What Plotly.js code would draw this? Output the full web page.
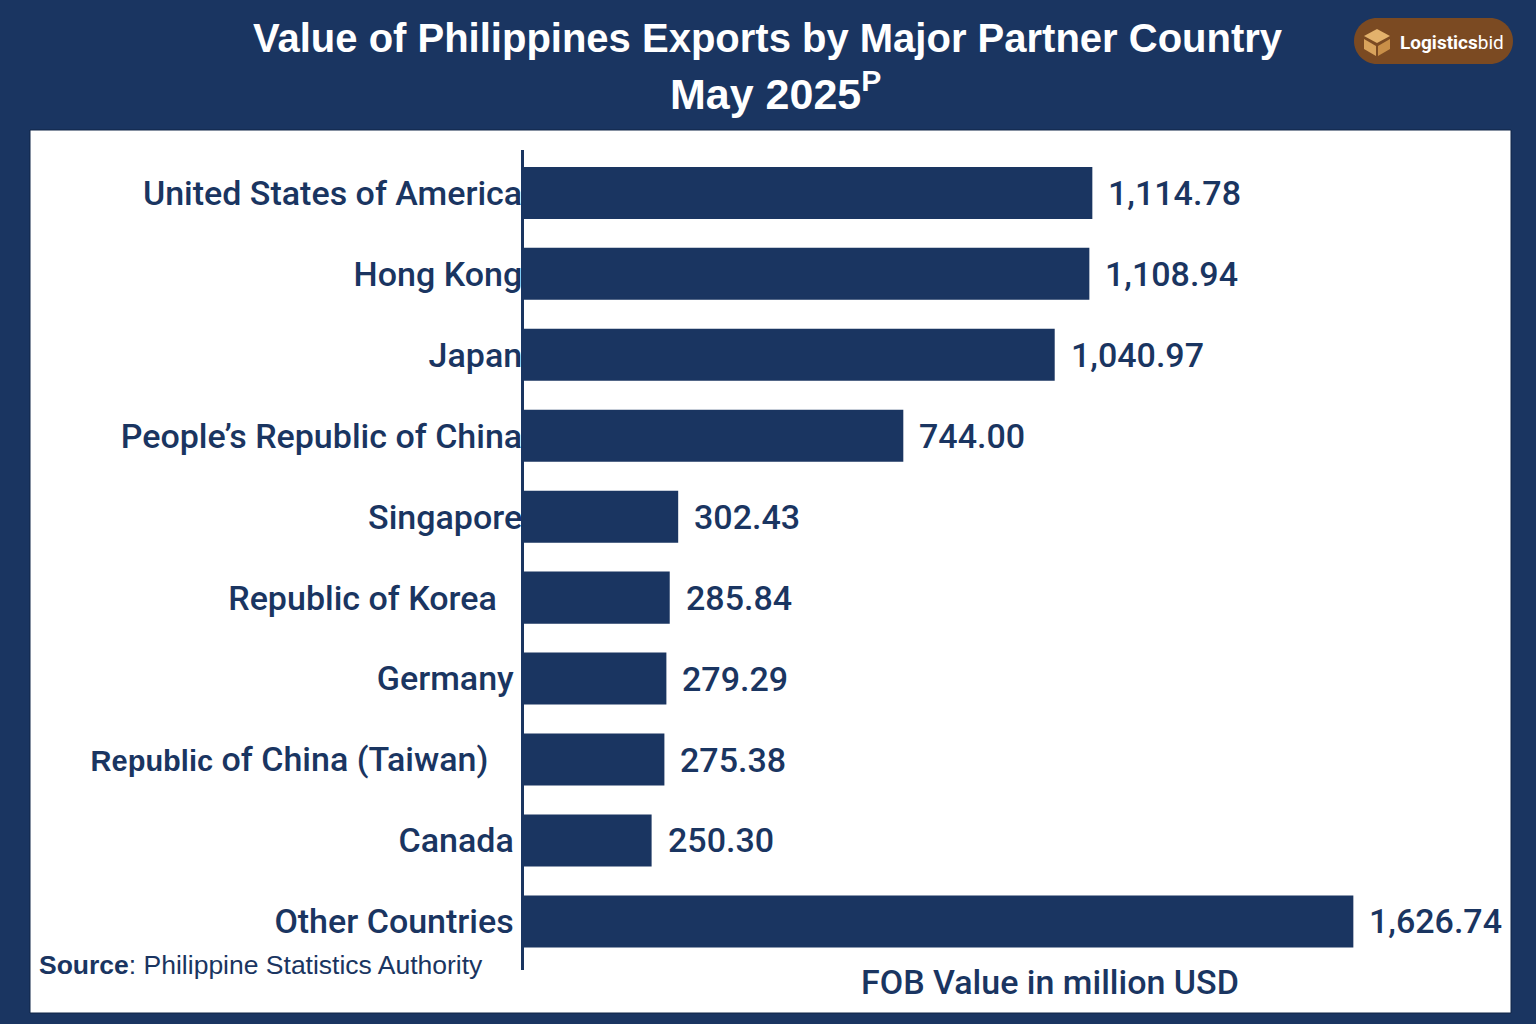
<!DOCTYPE html>
<html>
<head>
<meta charset="utf-8">
<script src="https://cdn.plot.ly/plotly-3.0.1.min.js"></script>
<style>html,body{margin:0;padding:0;background:#1a3561;}#chart{width:1536px;height:1024px;}</style>
</head>
<body>
<div id="chart"></div>
<script>
// ---- data ----
const countries = [
  "United States of America",
  "Hong Kong",
  "Japan",
  "People\u2019s Republic of China",
  "Singapore",
  "Republic of Korea",
  "Germany",
  "Republic of China (Taiwan)",
  "Canada",
  "Other Countries"
];
const values = [1114.78, 1108.94, 1040.97, 744.00, 302.43, 285.84, 279.29, 275.38, 250.30, 1626.74];
const NB = "\u00a0";
const tickLabels = countries.map(c => {
  if (c === "Republic of China (Taiwan)")
    return '<span style="font-family:Arial;font-size:29px;font-weight:bold">Republic</span> of China (Taiwan)' + NB.repeat(4);
  if (c === "Republic of Korea") return c + NB.repeat(3);
  if (c === "Germany" || c === "Canada" || c === "Other Countries") return c + NB;
  return c;
});
const titleLine1 = "Value of Philippines Exports by Major Partner Country";
const titleLine2 = "May 2025<sup>P</sup>";
const xTitleText = "FOB Value in million USD";
const sourceText = "<b>Source</b>: Philippine Statistics Authority";

// ---- style ----
const NAVY = "#1a3561";
const W = 1536, H = 1024;
const px = x => x / W;
const py = y => 1 - y / H;
const pathPx = pts => pts.map((p, i) => (i ? "L" : "M") + px(p[0]).toFixed(5) + "," + py(p[1]).toFixed(5)).join(" ") + " Z";

function pill(x0, y0, x1, y1) {
  const r = (y1 - y0) / 2, k = 0.5523 * r;
  const P = (x, y) => px(x).toFixed(5) + "," + py(y).toFixed(5);
  return "M" + P(x0 + r, y0) + " L" + P(x1 - r, y0) +
    " C" + P(x1 - r + k, y0) + " " + P(x1, y0 + r - k) + " " + P(x1, y0 + r) +
    " C" + P(x1, y1 - r + k) + " " + P(x1 - r + k, y1) + " " + P(x1 - r, y1) +
    " L" + P(x0 + r, y1) +
    " C" + P(x0 + r - k, y1) + " " + P(x0, y1 - r + k) + " " + P(x0, y0 + r) +
    " C" + P(x0, y0 + r - k) + " " + P(x0 + r - k, y0) + " " + P(x0 + r, y0) + " Z";
}

const trace = {
  type: "bar",
  orientation: "h",
  x: values,
  y: countries,
  marker: { color: NAVY, line: { width: 0 } },
  hoverinfo: "x+y"
};

const valueAnnotations = values.map((v, i) => ({
  x: v, y: countries[i], xref: "x", yref: "y",
  text: v.toLocaleString("en-US", { minimumFractionDigits: 2, maximumFractionDigits: 2 }),
  showarrow: false, xanchor: "left", yanchor: "middle", xshift: 14,
  font: { family: "Roboto, sans-serif", size: 34, color: NAVY, weight: 500 }
}));

const titleFont = { family: "Liberation Sans Narrow, Liberation Sans, Arial, sans-serif", color: "#ffffff", weight: "bold" };

const layout = {
  width: W, height: H,
  paper_bgcolor: NAVY,
  plot_bgcolor: "rgba(0,0,0,0)",
  margin: { l: 0, r: 0, t: 0, b: 0 },
  showlegend: false,
  bargap: 0.357,
  xaxis: {
    domain: [524 / W, 1],
    range: [0, 1985],
    showgrid: false, zeroline: false, showline: false,
    showticklabels: false, ticks: "", fixedrange: true
  },
  yaxis: {
    domain: [py(970), py(150)],
    type: "category",
    categoryorder: "array", categoryarray: countries,
    range: [9.6, -0.53],
    tickmode: "array", tickvals: countries, ticktext: tickLabels,
    showgrid: false, zeroline: false,
    showline: true, linecolor: NAVY, linewidth: 3,
    ticks: "", ticklabelstandoff: -8,
    tickfont: { family: "Roboto, sans-serif", size: 34, color: NAVY, weight: 500 },
    fixedrange: true
  },
  shapes: [
    { type: "rect", xref: "paper", yref: "paper", x0: px(30), x1: px(1511), y0: py(1013), y1: py(130),
      fillcolor: "#ffffff", line: { width: 1, color: "#0f2446" }, layer: "below" },
    { type: "path", xref: "paper", yref: "paper", path: pill(1354, 18, 1513, 64),
      fillcolor: "#7b4a22", line: { width: 0 }, layer: "above" },
    { type: "path", xref: "paper", yref: "paper",
      path: pathPx([[1364, 36], [1377, 29], [1390, 36], [1377, 43]]),
      fillcolor: "#e3b26c", line: { width: 0 } },
    { type: "path", xref: "paper", yref: "paper",
      path: pathPx([[1364, 39], [1376, 46], [1376, 56], [1364, 49]]),
      fillcolor: "#d9a35c", line: { width: 0 } },
    { type: "path", xref: "paper", yref: "paper",
      path: pathPx([[1378, 46], [1390, 39], [1390, 49], [1378, 56]]),
      fillcolor: "#c98f48", line: { width: 0 } }
  ],
  annotations: valueAnnotations.concat([
    { text: titleLine1, x: px(768), y: py(38), xref: "paper", yref: "paper",
      xanchor: "center", yanchor: "middle", showarrow: false,
      font: Object.assign({ size: 40 }, titleFont) },
    { text: titleLine2, x: px(775), y: py(91), xref: "paper", yref: "paper",
      xanchor: "center", yanchor: "middle", showarrow: false,
      font: Object.assign({ size: 43 }, titleFont) },
    { text: xTitleText, x: px(1050), y: py(982), xref: "paper", yref: "paper",
      xanchor: "center", yanchor: "middle", showarrow: false,
      font: { family: "Roboto, sans-serif", size: 34, color: NAVY, weight: 500 } },
    { text: sourceText, x: px(37), y: py(965), xref: "paper", yref: "paper",
      xanchor: "left", yanchor: "middle", showarrow: false,
      font: { family: "Liberation Sans, Arial, sans-serif", size: 26.5, color: NAVY } },
    { text: "<b>Logistics</b>bid", x: px(1452), y: py(42), xref: "paper", yref: "paper",
      xanchor: "center", yanchor: "middle", showarrow: false,
      font: { family: "Roboto, sans-serif", size: 19, color: "#ffffff" } }
  ])
};

Plotly.newPlot("chart", [trace], layout, { displayModeBar: false, staticPlot: true });
</script>
</body>
</html>
